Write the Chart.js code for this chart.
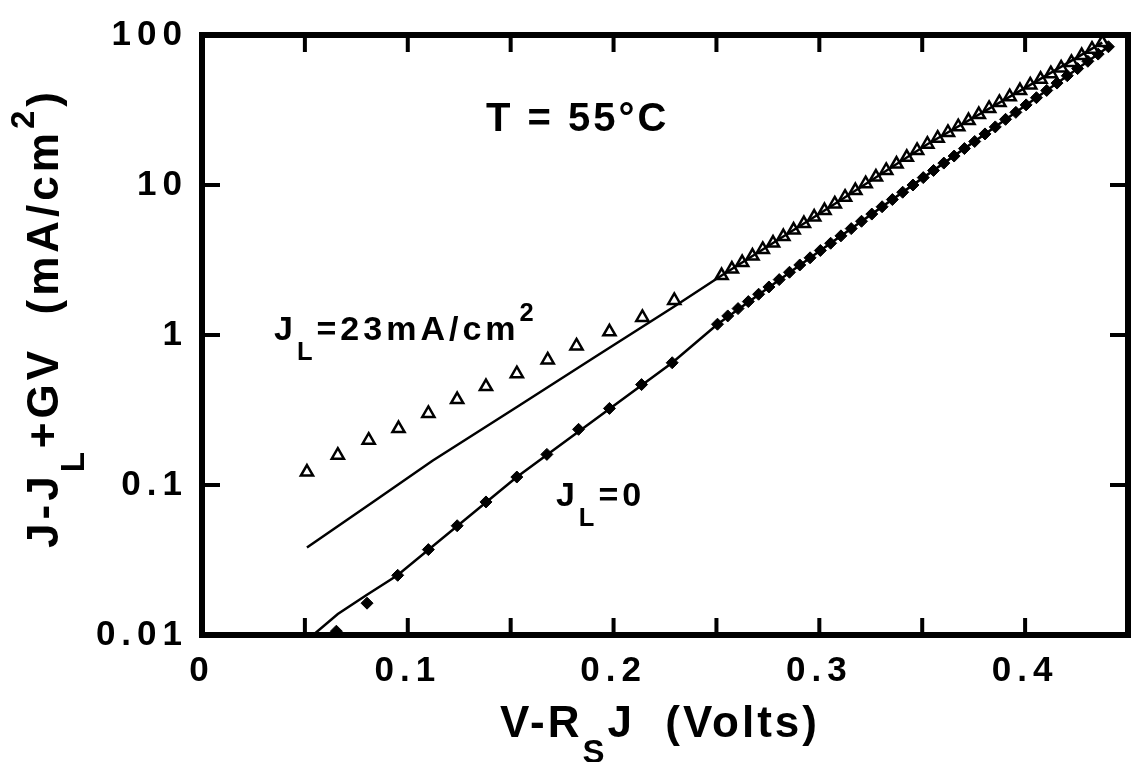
<!DOCTYPE html>
<html>
<head>
<meta charset="utf-8">
<script src="https://cdn.jsdelivr.net/npm/chart.js@4.4.0/dist/chart.umd.min.js"></script>
<style>
  html, body { margin: 0; padding: 0; background: #fff; }
</style>
</head>
<body>
<canvas id="chart" width="1143" height="762"></canvas>
<script>
// ========== DATOS ==========
// J_L = 23 mA/cm2 (triángulos abiertos)
const triX = [0.051, 0.066, 0.081, 0.0955, 0.110, 0.124, 0.138, 0.153, 0.168, 0.182, 0.198, 0.214, 0.2295,
  0.2525, 0.2575, 0.2625, 0.2675, 0.2725, 0.2775, 0.2825, 0.2875, 0.2925, 0.2975,
  0.3025, 0.3075, 0.3125, 0.3175, 0.3225, 0.3275, 0.3325, 0.3375, 0.3425, 0.3475,
  0.3525, 0.3575, 0.3625, 0.3675, 0.3725, 0.3775, 0.3825, 0.3875, 0.3925, 0.3975,
  0.4025, 0.4075, 0.4125, 0.4175, 0.4225, 0.4275, 0.4325, 0.4375];
const triY = [0.122, 0.158, 0.199, 0.238, 0.300, 0.371, 0.453, 0.552, 0.682, 0.845, 1.05, 1.31, 1.70,
  2.49, 2.75, 3.04, 3.36, 3.72, 4.10, 4.53, 5.01, 5.53, 6.11,
  6.76, 7.48, 8.30, 9.18, 10.2, 11.3, 12.5, 13.8, 15.3, 17.0,
  18.7, 20.5, 22.4, 24.5, 26.9, 29.5, 32.4, 35.5, 38.8, 42.6,
  46.5, 50.7, 55.2, 60.3, 65.6, 73.0, 80.5, 89.0];

// J_L = 0 (rombos llenos)
const diaX = [0.0653, 0.0802, 0.0951, 0.110, 0.124, 0.138, 0.153, 0.1676, 0.183, 0.198, 0.2136, 0.2285,
  0.2505, 0.2555, 0.2605, 0.2655, 0.2705, 0.2755, 0.2805, 0.2855, 0.2905, 0.2955,
  0.3005, 0.3055, 0.3105, 0.3155, 0.3205, 0.3255, 0.3305, 0.3355, 0.3405, 0.3455,
  0.3505, 0.3555, 0.3605, 0.3655, 0.3705, 0.3755, 0.3805, 0.3855, 0.3905, 0.3955,
  0.4005, 0.4055, 0.4105, 0.4155, 0.4205, 0.4255, 0.4305, 0.4355, 0.4405];
const diaY = [0.0106, 0.0163, 0.0250, 0.0371, 0.0535, 0.0771, 0.113, 0.160, 0.235, 0.324, 0.467, 0.653,
  1.18, 1.34, 1.50, 1.67, 1.87, 2.09, 2.34, 2.62, 2.93, 3.27,
  3.66, 4.09, 4.58, 5.12, 5.73, 6.40, 7.16, 8.00, 8.95, 10.0,
  11.2, 12.5, 14.0, 15.6, 17.5, 19.5, 21.9, 24.4, 27.4, 30.5,
  34.2, 38.2, 42.7, 47.8, 53.5, 59.7, 66.8, 74.6, 83.5];

// curvas teóricas (líneas continuas)
const fit23X = [0.051, 0.0831, 0.112, 0.1536, 0.190, 0.2295, 0.2525, 0.3025, 0.3525, 0.4025, 0.4375];
const fit23Y = [0.0383, 0.0771, 0.145, 0.335, 0.700, 1.55, 2.49, 6.76, 18.7, 46.5, 89.0];
const fit0X = [0.054, 0.066, 0.080, 0.095, 0.153, 0.2285, 0.2505, 0.3005, 0.3505, 0.4005, 0.4405];
const fit0Y = [0.0100, 0.0138, 0.0185, 0.0250, 0.113, 0.653, 1.18, 3.66, 11.2, 34.2, 83.5];

// ejes
const xTickValues = [0, 0.05, 0.1, 0.15, 0.2, 0.25, 0.3, 0.35, 0.4, 0.45];
const xTickLabels = ["0", "", "0.1", "", "0.2", "", "0.3", "", "0.4", ""];
const yTickValues = [0.01, 0.1, 1, 10, 100];
const yTickLabels = ["0.01", "0.1", "1", "10", "100"];

const FONT = '"Liberation Sans", Arial, Helvetica, sans-serif';

function pts(xs, ys) {
  return xs.map((x, i) => ({ x: x, y: ys[i] }));
}

// texto con subíndices / superíndices
function richText(ctx, parts, x, y, size, draw) {
  let cx = x;
  parts.forEach(p => {
    const s = (p.sub || p.sup) ? size * 0.75 : size;
    ctx.font = `bold ${s}px ${FONT}`;
    const dy = p.sub ? size * 0.6 : (p.sup ? -size * 0.55 : 0);
    if (draw) ctx.fillText(p.t, cx, y + dy);
    cx += ctx.measureText(p.t).width;
  });
  return cx - x;
}

const marcoPlugin = {
  id: "marco",
  beforeDraw(chart) {
    chart.ctx.letterSpacing = "6px";
  },
  afterDatasetsDraw(chart) {
    const { ctx, chartArea: a, scales: { x, y } } = chart;
    ctx.save();
    ctx.strokeStyle = "#000";
    ctx.lineWidth = 4;
    ctx.beginPath();
    xTickValues.forEach(v => {
      const px = x.getPixelForValue(v);
      ctx.moveTo(px, a.bottom); ctx.lineTo(px, a.bottom - 17);
      ctx.moveTo(px, a.top); ctx.lineTo(px, a.top + 17);
    });
    yTickValues.forEach(v => {
      const py = y.getPixelForValue(v);
      ctx.moveTo(a.left, py); ctx.lineTo(a.left + 18, py);
      ctx.moveTo(a.right, py); ctx.lineTo(a.right - 18, py);
    });
    ctx.stroke();
    ctx.lineWidth = 6;
    ctx.strokeRect(a.left, a.top, a.right - a.left, a.bottom - a.top);
    ctx.restore();
  },
  afterDraw(chart) {
    const { ctx, scales: { x, y } } = chart;
    ctx.save();
    ctx.fillStyle = "#000";
    ctx.textBaseline = "alphabetic";
    ctx.textAlign = "left";

    // anotaciones
    ctx.letterSpacing = "3px";
    richText(ctx, [{ t: "T = 55°C" }], x.getPixelForValue(0.138), y.getPixelForValue(22.8), 40, true);
    ctx.letterSpacing = "4px";
    richText(ctx, [{ t: "J" }, { t: "L", sub: true }, { t: "=23mA/cm" }, { t: "2", sup: true }],
      x.getPixelForValue(0.035), y.getPixelForValue(0.93), 34, true);
    richText(ctx, [{ t: "J" }, { t: "L", sub: true }, { t: "=0" }],
      x.getPixelForValue(0.172), y.getPixelForValue(0.0726), 34, true);

    // título eje X
    ctx.letterSpacing = "3px";
    const xt = [{ t: "V-R" }, { t: "S", sub: true }, { t: "J  (Volts)" }];
    const wx = richText(ctx, xt, 0, 0, 44, false);
    richText(ctx, xt, 660 - wx / 2, 737, 44, true);

    // título eje Y
    ctx.letterSpacing = "4px";
    const yt = [{ t: "J-J" }, { t: "L", sub: true }, { t: "+GV  (mA/cm" }, { t: "2", sup: true }, { t: ")" }];
    const wy = richText(ctx, yt, 0, 0, 44, false);
    ctx.translate(58, 318);
    ctx.rotate(-Math.PI / 2);
    richText(ctx, yt, -wy / 2, 0, 44, true);
    ctx.restore();
  }
};

new Chart(document.getElementById("chart"), {
  type: "scatter",
  data: {
    datasets: [
      {
        label: "ajuste J_L=23",
        data: pts(fit23X, fit23Y),
        showLine: true,
        borderColor: "#000",
        borderWidth: 2.5,
        pointRadius: 0,
        fill: false,
      },
      {
        label: "ajuste J_L=0",
        data: pts(fit0X, fit0Y),
        showLine: true,
        borderColor: "#000",
        borderWidth: 2.5,
        pointRadius: 0,
        fill: false,
      },
      {
        label: "J_L=23mA/cm2",
        data: pts(triX, triY),
        pointStyle: "triangle",
        pointRadius: 7,
        pointBorderWidth: 2.5,
        pointBackgroundColor: "#fff",
        pointBorderColor: "#000",
      },
      {
        label: "J_L=0",
        data: pts(diaX, diaY),
        pointStyle: "rectRot",
        pointRadius: 6,
        pointBorderWidth: 1,
        pointBackgroundColor: "#000",
        pointBorderColor: "#000",
      },
    ],
  },
  options: {
    responsive: false,
    animation: false,
    devicePixelRatio: 1,
    layout: { padding: { top: 30, right: 6, left: 0, bottom: 0 } },
    plugins: { legend: { display: false }, tooltip: { enabled: false } },
    scales: {
      x: {
        type: "linear",
        min: 0,
        max: 0.45,
        grid: { display: false, drawTicks: false },
        border: { display: false },
        afterBuildTicks: s => { s.ticks = xTickValues.map(v => ({ value: v })); },
        afterFit: s => { s.height = 127; },
        ticks: {
          autoSkip: false,
          maxRotation: 0,
          padding: 15,
          color: "#000",
          font: { family: FONT, size: 35, weight: "bold" },
          callback: (v, i) => xTickLabels[i],
        },
      },
      y: {
        type: "logarithmic",
        min: 0.01,
        max: 100,
        grid: { display: false, drawTicks: false },
        border: { display: false },
        afterBuildTicks: s => { s.ticks = yTickValues.map(v => ({ value: v })); },
        afterFit: s => { s.width = 202; },
        ticks: {
          autoSkip: false,
          padding: 14,
          color: "#000",
          font: { family: FONT, size: 35, weight: "bold" },
          callback: (v, i) => yTickLabels[i],
        },
      },
    },
  },
  plugins: [marcoPlugin],
});
</script>
</body>
</html>
